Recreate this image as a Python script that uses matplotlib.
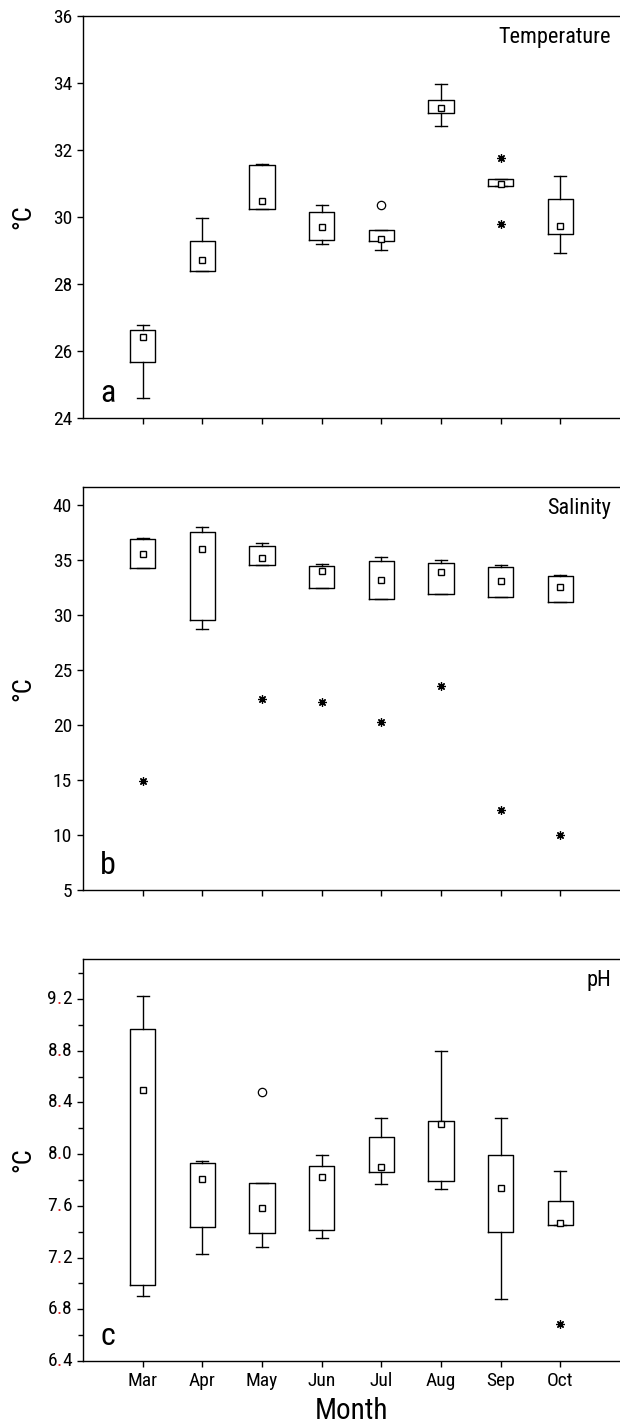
import matplotlib
matplotlib.use("Agg")
import matplotlib.pyplot as plt
from matplotlib import font_manager as fm
from matplotlib.ticker import MultipleLocator
from matplotlib.offsetbox import TextArea, HPacker, AnnotationBbox

# pick a condensed sans close to the original figure's font
installed = {f.name for f in fm.fontManager.ttflist}
wanted = ["Roboto Condensed", "PT Sans Narrow", "Pragati Narrow",
          "Archivo Narrow", "Liberation Sans Narrow", "Liberation Sans"]
FONT = [f for f in wanted if f in installed][:1] + ["DejaVu Sans"]
plt.rcParams["font.family"] = FONT

months = ["Mar", "Apr", "May", "Jun", "Jul", "Aug", "Sep", "Oct"]

# panel a - temperature
temp_lo = [24.59, 28.38, 30.23, 29.20, 29.01, 32.72, 30.93, 28.92]
temp_q1 = [25.68, 28.40, 30.25, 29.31, 29.28, 33.09, 30.93, 29.49]
temp_q3 = [26.64, 29.29, 31.55, 30.16, 29.61, 33.49, 31.13, 30.54]
temp_hi = [26.78, 29.96, 31.58, 30.37, 29.61, 33.97, 31.13, 31.22]
temp_mean = [26.43, 28.72, 30.47, 29.70, 29.33, 33.25, 30.99, 29.73]
temp_circ_x = ["Jul"]
temp_circ_y = [30.37]
temp_star_x = ["Sep", "Sep"]
temp_star_y = [31.77, 29.78]

# panel b - salinity
sal_lo = [34.21, 28.72, 34.51, 32.42, 31.39, 31.90, 31.63, 31.17]
sal_q1 = [34.21, 29.51, 34.51, 32.42, 31.39, 31.90, 31.63, 31.17]
sal_q3 = [36.91, 37.54, 36.27, 34.45, 34.84, 34.69, 34.36, 33.51]
sal_hi = [37.00, 37.94, 36.48, 34.60, 35.24, 34.93, 34.51, 33.57]
sal_mean = [35.51, 35.97, 35.12, 33.93, 33.18, 33.84, 33.05, 32.51]
sal_circ_x = []
sal_circ_y = []
sal_star_x = ["Mar", "May", "Jun", "Jul", "Aug", "Sep", "Oct"]
sal_star_y = [14.89, 22.38, 22.10, 20.22, 23.50, 12.25, 10.03]

# panel c - pH
ph_lo = [6.90, 7.23, 7.28, 7.35, 7.77, 7.73, 6.88, 7.45]
ph_q1 = [6.99, 7.44, 7.39, 7.41, 7.86, 7.79, 7.40, 7.45]
ph_q3 = [8.97, 7.93, 7.78, 7.91, 8.13, 8.26, 7.99, 7.64]
ph_hi = [9.22, 7.95, 7.78, 7.99, 8.28, 8.80, 8.28, 7.87]
ph_mean = [8.50, 7.81, 7.58, 7.82, 7.90, 8.23, 7.74, 7.47]
ph_circ_x = ["May"]
ph_circ_y = [8.48]
ph_star_x = ["Oct"]
ph_star_y = [6.69]

pos = list(range(1, len(months) + 1))
mpos = dict(zip(months, pos))


def draw_panel(ax, lo, q1, q3, hi, mean, cx, cy, sx, sy):
    stats = []
    for i in range(len(months)):
        stats.append(dict(whislo=lo[i], q1=q1[i], med=q1[i], q3=q3[i],
                          whishi=hi[i], mean=mean[i], fliers=[]))
    ax.bxp(stats, positions=pos, widths=0.42, capwidths=0.2,
           showmeans=True, showfliers=False,
           boxprops=dict(color="black", linewidth=1.0),
           whiskerprops=dict(color="black", linewidth=1.0),
           capprops=dict(color="black", linewidth=1.0),
           medianprops=dict(visible=False),
           meanprops=dict(marker="s", markerfacecolor="white",
                          markeredgecolor="black", markersize=5,
                          markeredgewidth=1.0))
    ax.plot([mpos[m] for m in cx], cy, ls="none", marker="o", ms=6,
            mfc="white", mec="black", mew=0.9)
    ax.plot([mpos[m] for m in sx], sy, ls="none", marker=(8, 2, 0), ms=6,
            color="black", mew=0.9)
    ax.set_xlim(0, 9)
    ax.set_xticks(pos)
    ax.spines["right"].set_visible(False)
    for s in ["left", "top", "bottom"]:
        ax.spines[s].set_linewidth(1.0)
    ax.tick_params(direction="out", length=4.5, width=1.0, labelsize=14,
                   pad=3.5)
    ax.tick_params(which="minor", direction="out", length=3.5, width=1.0)
    ax.set_ylabel("°C", fontsize=19)
    ax.yaxis.set_label_coords(-0.089, 0.5)


fig = plt.figure(figsize=(6.2, 14.26), dpi=100)
L, W = 83 / 620, 1 - 83 / 620
ax_a = fig.add_axes([L, 1 - 418 / 1426, W, 402 / 1426])
ax_b = fig.add_axes([L, 1 - 890 / 1426, W, 403 / 1426])
ax_c = fig.add_axes([L, 1 - 1361 / 1426, W, 402 / 1426])

draw_panel(ax_a, temp_lo, temp_q1, temp_q3, temp_hi, temp_mean,
           temp_circ_x, temp_circ_y, temp_star_x, temp_star_y)
ax_a.set_ylim(24, 36)
ax_a.set_yticks(range(24, 37, 2))
ax_a.set_xticklabels([])

draw_panel(ax_b, sal_lo, sal_q1, sal_q3, sal_hi, sal_mean,
           sal_circ_x, sal_circ_y, sal_star_x, sal_star_y)
ax_b.set_ylim(5, 41.6)
ax_b.set_yticks(range(5, 41, 5))
ax_b.set_xticklabels([])

draw_panel(ax_c, ph_lo, ph_q1, ph_q3, ph_hi, ph_mean,
           ph_circ_x, ph_circ_y, ph_star_x, ph_star_y)
ax_c.set_ylim(6.4, 9.51)
c_ticks = [6.4, 6.8, 7.2, 7.6, 8.0, 8.4, 8.8, 9.2]
ax_c.set_yticks(c_ticks)
ax_c.yaxis.set_minor_locator(MultipleLocator(0.2))
ax_c.set_yticklabels([])
ax_c.set_xticklabels(months)
ax_c.set_xlabel("Month", fontsize=21, labelpad=5)

# pH tick labels, the decimal point is red in the original
for v in c_ticks:
    a, b = f"{v:.1f}".split(".")
    tp = dict(fontsize=14, family=FONT, color="black")
    parts = [TextArea(a, textprops=tp),
             TextArea(".", textprops=dict(tp, color="#e02020")),
             TextArea(b, textprops=tp)]
    pack = HPacker(children=parts, align="baseline", pad=0, sep=0)
    ab = AnnotationBbox(pack, (0, v), xycoords=ax_c.get_yaxis_transform(),
                        xybox=(-8.0, 0), boxcoords="offset points",
                        box_alignment=(1, 0.5), frameon=False, pad=0,
                        annotation_clip=False)
    ax_c.add_artist(ab)

for ax, letter, name in [(ax_a, "a", "Temperature"), (ax_b, "b", "Salinity"),
                         (ax_c, "c", "pH")]:
    ax.text(0.032, 0.04, letter, transform=ax.transAxes, fontsize=23,
            ha="left", va="baseline")
    ax.text(0.983, 0.932, name, transform=ax.transAxes, fontsize=16,
            ha="right", va="baseline")

fig.savefig("out.png", dpi=100)
